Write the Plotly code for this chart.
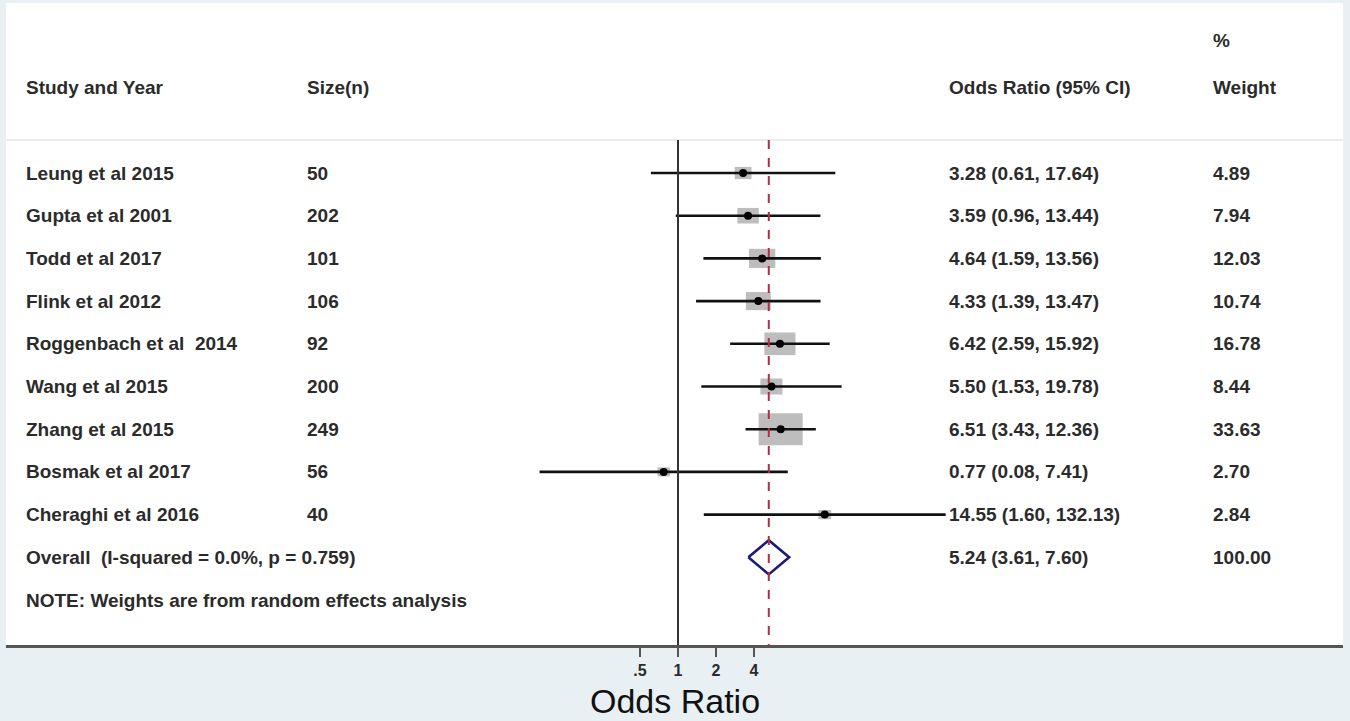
import plotly.graph_objects as go
import numpy as np

# ---- data ----
studies = ["Leung et al 2015", "Gupta et al 2001", "Todd et al 2017", "Flink et al 2012",
           "Roggenbach et al  2014", "Wang et al 2015", "Zhang et al 2015",
           "Bosmak et al 2017", "Cheraghi et al 2016"]
sizes = ["50", "202", "101", "106", "92", "200", "249", "56", "40"]
odds = [3.28, 3.59, 4.64, 4.33, 6.42, 5.50, 6.51, 0.77, 14.55]
ci_low = [0.61, 0.96, 1.59, 1.39, 2.59, 1.53, 3.43, 0.08, 1.60]
ci_high = [17.64, 13.44, 13.56, 13.47, 15.92, 19.78, 12.36, 7.41, 132.13]
weights = [4.89, 7.94, 12.03, 10.74, 16.78, 8.44, 33.63, 2.70, 2.84]
overall_label = "Overall  (I-squared = 0.0%, p = 0.759)"
overall_or, overall_low, overall_high, overall_weight = 5.24, 3.61, 7.60, 100.00
note = "NOTE: Weights are from random effects analysis"
tick_vals = [0.5, 1, 2, 4]
tick_text = [".5", "1", "2", "4"]

# ---- layout geometry ----
W, H = 1350, 721
ML, MR, MT, MB = 6, 7, 3, 76
plot_w = W - ML - MR
plot_h = H - MT - MB
px_per_dec = 126.2
x0 = -(678 - ML) / px_per_dec
xr = [x0, x0 + plot_w / px_per_dec]
row_px = 42.7
yr = [1 + (H - MB - 173) / row_px, 1 - (173 - MT) / row_px]  # reversed
rows = list(range(1, len(studies) + 1))
overall_row = len(studies) + 1
note_row = overall_row + 1

TXT = "#2b2b2b"
FONT = "Liberation Sans, Arial, sans-serif"

fig = go.Figure()

# weight boxes (rectangles sized by weight)
for r, o, w in zip(rows, odds, weights):
    hw_px = 7.59 * np.sqrt(w) / 2
    hh_px = 5.52 * np.sqrt(w) / 2
    lx = np.log10(o)
    dx = hw_px / px_per_dec
    dy = hh_px / row_px
    xs = [10 ** (lx - dx), 10 ** (lx + dx), 10 ** (lx + dx), 10 ** (lx - dx), 10 ** (lx - dx)]
    ys = [r - dy, r - dy, r + dy, r + dy, r - dy]
    fig.add_trace(go.Scatter(x=xs, y=ys, mode="lines", fill="toself",
                             fillcolor="#bdbdbd", line=dict(width=0, color="#bdbdbd"),
                             hoverinfo="skip", showlegend=False))

# CI lines
for r, lo, hi in zip(rows, ci_low, ci_high):
    fig.add_trace(go.Scatter(x=[lo, hi], y=[r, r], mode="lines",
                             line=dict(color="#111111", width=2.6),
                             hoverinfo="skip", showlegend=False))

# point estimates
fig.add_trace(go.Scatter(x=odds, y=rows, mode="markers",
                         marker=dict(color="#000000", size=8, symbol="circle"),
                         showlegend=False))

# overall diamond
fig.add_trace(go.Scatter(x=[overall_low, overall_or, overall_high, overall_or, overall_low],
                         y=[overall_row, overall_row - 0.4, overall_row, overall_row + 0.4, overall_row],
                         mode="lines", line=dict(color="#1a1a78", width=2.6),
                         hoverinfo="skip", showlegend=False))

sep_row = 1 - (173 - 140) / row_px
shapes = [
    # header separator
    dict(type="line", xref="paper", yref="y", x0=0, x1=1, y0=sep_row, y1=sep_row,
         line=dict(color="#d9d9d9", width=1.2)),
    # null line
    dict(type="line", xref="x", yref="y", x0=1, x1=1, y0=sep_row, y1=yr[0],
         line=dict(color="#333333", width=2)),
    # overall dashed line
    dict(type="line", xref="x", yref="y", x0=overall_or, x1=overall_or, y0=sep_row, y1=yr[0],
         line=dict(color="#b03040", width=2, dash="dash")),
]

def px_to_paper(p):
    return (p - ML) / plot_w

col_study, col_size, col_or, col_w = px_to_paper(24), px_to_paper(305), px_to_paper(947), px_to_paper(1211)
fs = 19
ann = []
def txt(x, y, s, size=fs, bold=True):
    ann.append(dict(xref="paper", yref="y", x=x, y=y, text=("<b>%s</b>" % s) if bold else s,
                    showarrow=False, xanchor="left", yanchor="middle",
                    font=dict(family=FONT, size=size, color=TXT)))

txt(col_study, -1, "Study and Year")
txt(col_size, -1, "Size(n)")
txt(col_or, -1, "Odds Ratio (95% CI)")
txt(col_w, -2.11, "%")
txt(col_w, -1, "Weight")
for r, s, n, o, lo, hi, w in zip(rows, studies, sizes, odds, ci_low, ci_high, weights):
    txt(col_study, r, s)
    txt(col_size, r, n)
    txt(col_or, r, "%.2f (%.2f, %.2f)" % (o, lo, hi))
    txt(col_w, r, "%.2f" % w)
txt(col_study, overall_row, overall_label)
txt(col_or, overall_row, "%.2f (%.2f, %.2f)" % (overall_or, overall_low, overall_high))
txt(col_w, overall_row, "%.2f" % overall_weight)
txt(col_study, note_row, note)

# axis title
ann.append(dict(xref="paper", yref="paper", x=0.5, y=(645 - 701) / plot_h, text="Odds Ratio",
                showarrow=False, xanchor="center", yanchor="middle",
                font=dict(family=FONT, size=34, color="#111111")))

fig.update_layout(
    width=W, height=H,
    margin=dict(l=ML, r=MR, t=MT, b=MB, autoexpand=False),
    paper_bgcolor="#e8f0f3", plot_bgcolor="#ffffff",
    shapes=shapes, annotations=ann, showlegend=False,
    xaxis=dict(type="log", range=xr, tickvals=tick_vals, ticktext=["<b>%s</b>" % t for t in tick_text],
               ticks="outside", ticklen=9, tickwidth=2, tickcolor="#555555",
               showline=True, linecolor="#555555", linewidth=2.5, mirror=False,
               showgrid=False, zeroline=False,
               tickfont=dict(family=FONT, size=16, color=TXT)),
    yaxis=dict(range=yr, visible=False, showgrid=False, zeroline=False),
)

fig.write_html("out.html", config={"displayModeBar": False},
               post_script="document.body.style.margin='0';document.body.style.padding='0';"
                           "document.body.style.overflow='hidden';")
